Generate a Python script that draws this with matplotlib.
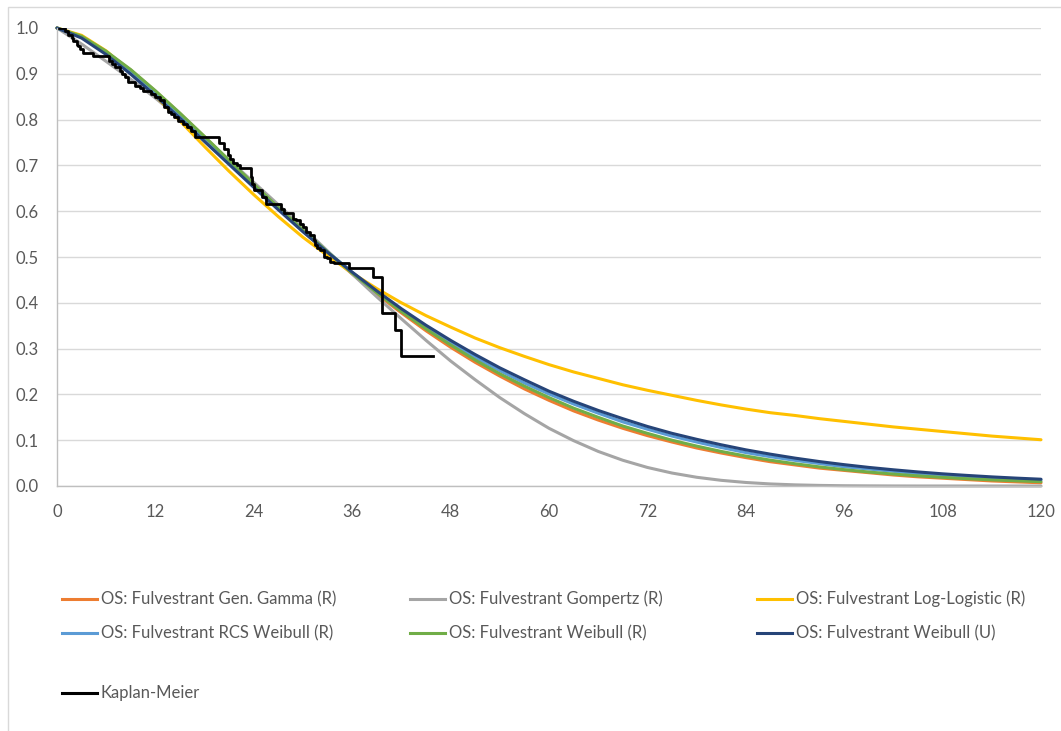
import matplotlib
matplotlib.use('Agg')
import matplotlib.pyplot as plt
from matplotlib.lines import Line2D
from matplotlib.patches import Rectangle

# ---------------- data ----------------
months = list(range(0, 121, 3))

gen_gamma = [1.0, 0.982, 0.948, 0.908, 0.862, 0.813, 0.762, 0.710, 0.658, 0.607,
             0.557, 0.509, 0.463, 0.419, 0.378, 0.339, 0.303, 0.270, 0.240, 0.212,
             0.187, 0.164, 0.144, 0.126, 0.110, 0.096, 0.083, 0.072, 0.062, 0.053,
             0.046, 0.039, 0.034, 0.029, 0.024, 0.020, 0.017, 0.014, 0.011, 0.009, 0.007]
gompertz = [1.0, 0.965, 0.927, 0.888, 0.847, 0.803, 0.758, 0.711, 0.663, 0.614,
            0.564, 0.513, 0.463, 0.413, 0.365, 0.318, 0.273, 0.232, 0.193, 0.158,
            0.126, 0.099, 0.0755, 0.0562, 0.0405, 0.0283, 0.0191, 0.0124, 0.0077, 0.0045,
            0.0025, 0.0013, 0.0006, 0.0003, 0.0001, 0.0, 0.0, 0.0, 0.0, 0.0, 0.0]
log_logistic = [1.0, 0.984, 0.950, 0.904, 0.852, 0.797, 0.741, 0.687, 0.636, 0.588,
                0.543, 0.503, 0.465, 0.431, 0.400, 0.372, 0.347, 0.323, 0.302, 0.283,
                0.265, 0.249, 0.235, 0.221, 0.209, 0.198, 0.187, 0.177, 0.168, 0.160,
                0.154, 0.147, 0.141, 0.135, 0.129, 0.124, 0.119, 0.114, 0.109, 0.105, 0.101]
rcs_weibull = [1.0, 0.980, 0.946, 0.904, 0.858, 0.809, 0.758, 0.707, 0.656, 0.606,
               0.557, 0.511, 0.466, 0.424, 0.384, 0.347, 0.313, 0.281, 0.252, 0.225,
               0.201, 0.179, 0.159, 0.140, 0.124, 0.109, 0.096, 0.084, 0.073, 0.064,
               0.056, 0.049, 0.042, 0.037, 0.032, 0.027, 0.024, 0.020, 0.017, 0.015, 0.013]
weibull_r = [1.0, 0.982, 0.949, 0.909, 0.863, 0.814, 0.763, 0.711, 0.659, 0.608,
             0.559, 0.511, 0.465, 0.422, 0.381, 0.343, 0.308, 0.275, 0.245, 0.218,
             0.193, 0.170, 0.150, 0.131, 0.115, 0.100, 0.0872, 0.0755, 0.0654, 0.0564,
             0.0486, 0.0417, 0.0357, 0.0305, 0.0260, 0.0221, 0.0188, 0.0159, 0.0134, 0.0113, 0.0095]
weibull_u = [1.0, 0.978, 0.942, 0.899, 0.852, 0.803, 0.752, 0.702, 0.652, 0.603,
             0.555, 0.510, 0.467, 0.426, 0.387, 0.351, 0.318, 0.287, 0.258, 0.232,
             0.207, 0.185, 0.165, 0.147, 0.130, 0.115, 0.102, 0.090, 0.079, 0.0695,
             0.0609, 0.0533, 0.0466, 0.0406, 0.0354, 0.0307, 0.0266, 0.0231, 0.0199, 0.0172, 0.0148]

km_time = [0, 1.0, 1.4, 1.8, 2.0, 2.4, 2.6, 2.8, 3.2, 4.4, 6.3, 6.7, 7.1, 7.7, 7.9,
           8.3, 8.7, 9.5, 10.1, 10.5, 11.5, 11.9, 12.5, 13.1, 13.5, 13.9, 14.3, 14.8,
           15.4, 15.8, 16.4, 16.8, 19.8, 20.4, 20.8, 21.1, 21.5, 21.9, 22.3, 23.6, 23.8,
           24.0, 25.0, 25.5, 27.3, 27.7, 28.8, 29.2, 29.6, 30.0, 30.4, 30.9, 31.3, 31.5,
           31.7, 32.1, 32.5, 32.9, 33.3, 33.8, 35.6, 38.5, 39.6, 41.2, 41.9, 45.8]
km_surv = [1.0, 0.993, 0.985, 0.978, 0.971, 0.963, 0.960, 0.954, 0.946, 0.938, 0.929, 0.922, 0.915, 0.907, 0.900,
           0.893, 0.882, 0.874, 0.870, 0.863, 0.856, 0.849, 0.842, 0.827, 0.816, 0.812, 0.805, 0.798,
           0.790, 0.783, 0.776, 0.762, 0.750, 0.735, 0.722, 0.714, 0.706, 0.700, 0.694, 0.675, 0.660,
           0.646, 0.632, 0.615, 0.605, 0.595, 0.584, 0.580, 0.573, 0.566, 0.555, 0.548, 0.537, 0.526,
           0.519, 0.515, 0.500, 0.497, 0.490, 0.486, 0.477, 0.457, 0.378, 0.340, 0.283, 0.283]

x_ticks = list(range(0, 121, 12))
y_ticks = [0.0, 0.1, 0.2, 0.3, 0.4, 0.5, 0.6, 0.7, 0.8, 0.9, 1.0]

series = [
    ("OS: Fulvestrant Gen. Gamma (R)", gen_gamma, "#ED7D31"),
    ("OS: Fulvestrant Gompertz (R)", gompertz, "#A5A5A5"),
    ("OS: Fulvestrant Log-Logistic (R)", log_logistic, "#FFC000"),
    ("OS: Fulvestrant RCS Weibull (R)", rcs_weibull, "#5B9BD5"),
    ("OS: Fulvestrant Weibull (R)", weibull_r, "#70AD47"),
    ("OS: Fulvestrant Weibull (U)", weibull_u, "#264478"),
]
km_label = "Kaplan-Meier"

# ---------------- layout ----------------
W, H = 1061, 731
fig = plt.figure(figsize=(W / 100, H / 100), dpi=100)
fig.patch.set_facecolor('white')

def fx(px):
    return px / W

def fy(py):
    return 1 - py / H

FONT = 'Lato'
TXT = '#595959'
FS = 12

# chart border
fig.add_artist(Rectangle((fx(8), fy(740)), fx(1070) - fx(8), fy(7) - fy(740),
                         transform=fig.transFigure, fill=False, edgecolor='#D9D9D9',
                         linewidth=1.0))

ax = fig.add_axes([fx(57), fy(486), fx(1041) - fx(57), fy(28) - fy(486)])
ax.set_xlim(0, 120)
ax.set_ylim(0, 1.0)
ax.set_xticks(x_ticks)
ax.set_yticks(y_ticks)
ax.set_xticklabels([str(v) for v in x_ticks], fontfamily=FONT, fontsize=FS, color=TXT)
ax.set_yticklabels([f"{v:.1f}" for v in y_ticks], fontfamily=FONT, fontsize=FS, color=TXT)
ax.tick_params(axis='both', length=0)
ax.tick_params(axis='x', pad=13)
ax.tick_params(axis='y', pad=13)
ax.grid(axis='y', color='#D9D9D9', linewidth=1.0)
ax.set_axisbelow(True)
for s in ['top', 'right']:
    ax.spines[s].set_visible(False)
for s in ['left', 'bottom']:
    ax.spines[s].set_color('#BFBFBF')
    ax.spines[s].set_linewidth(1.0)

for label, vals, col in series:
    ax.plot(months, vals, color=col, linewidth=2.2, solid_capstyle='round',
            solid_joinstyle='round', clip_on=False)
ax.step(km_time, km_surv, where='post', color='black', linewidth=2.0)

# ---------------- legend ----------------
col_x = [62, 410, 757]
row_y = [599, 633, 693]
entries = [(s[0], s[2]) for s in series] + [(km_label, 'black')]
for i, (label, col) in enumerate(entries):
    r, c = divmod(i, 3)
    x0 = col_x[c]
    y0 = row_y[r]
    fig.add_artist(Line2D([fx(x0), fx(x0 + 35)], [fy(y0), fy(y0)],
                          transform=fig.transFigure, color=col, linewidth=2.2))
    fig.text(fx(x0 + 39), fy(y0), label, fontfamily=FONT, fontsize=FS, color=TXT,
             ha='left', va='center')

fig.savefig('out.png', dpi=100)
